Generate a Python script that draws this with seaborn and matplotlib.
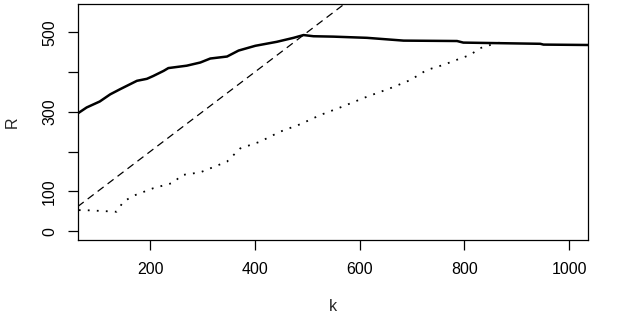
import numpy as np
import pandas as pd
import seaborn as sns
import matplotlib
matplotlib.use("Agg")
import matplotlib.pyplot as plt

# values
k_solid = [62, 79, 104, 124, 143, 175, 194, 206, 226, 235, 270, 296, 315, 347, 369,
           401, 442, 474, 493, 512, 550, 614, 684, 786, 798, 945, 951, 1036]
r_solid = [296, 311, 326, 344, 357, 378, 383, 390, 403, 410, 416, 424, 434, 439, 454,
           466, 476, 486, 493, 490, 489, 486, 479, 478, 474, 471, 469, 468]

k_dot = [64, 76, 136, 149, 168, 206, 245, 260, 296, 347, 372, 410, 448, 487, 525,
         563, 614, 658, 697, 728, 760, 786, 811, 830, 859, 868]
r_dot = [53, 53, 49, 74, 89, 108, 122, 141, 148, 175, 208, 225, 250, 269, 292,
         311, 338, 359, 380, 405, 418, 431, 443, 460, 472, 474]

k_diag = [62, 600]
r_diag = [62, 600]

x_ticks = [200, 400, 600, 800, 1000]
y_ticks = [0, 100, 200, 300, 400, 500]
y_labels = ["0", "100", "", "300", "", "500"]

sns.set_style("ticks")
plt.rcParams['font.family'] = ['Liberation Sans', 'DejaVu Sans']

fig = plt.figure(figsize=(6.28, 3.23), dpi=100)
ax = fig.add_axes([0.1242, 0.257, 0.8121, 0.7306])

sns.lineplot(x=k_solid, y=r_solid, ax=ax, color="black", linewidth=1.8)
sns.lineplot(x=k_diag, y=r_diag, ax=ax, color="black", linewidth=0.9, linestyle=(0, (6, 4)))
sns.lineplot(x=k_dot, y=r_dot, ax=ax, color="black", linewidth=1.3, linestyle=(0, (1, 4)))

ax.set_xlim(62.5, 1036)
ax.set_ylim(-22, 571)
ax.set_xticks(x_ticks)
ax.set_yticks(y_ticks)
ax.set_yticklabels(y_labels, rotation=90, va="center")
ax.tick_params(direction="out", length=7, width=0.9, pad=9, labelsize=11.5, colors="black")
ax.tick_params(axis="y", pad=8)
for s in ax.spines.values():
    s.set_visible(True)
    s.set_color("black")
    s.set_linewidth(0.9)

fig.text(0.53, 0.05, "k", ha="center", va="center", fontsize=11.5)
fig.text(0.019, 0.622, "R", ha="center", va="center", rotation=90, fontsize=11.5)

fig.savefig("out.png", dpi=100)
